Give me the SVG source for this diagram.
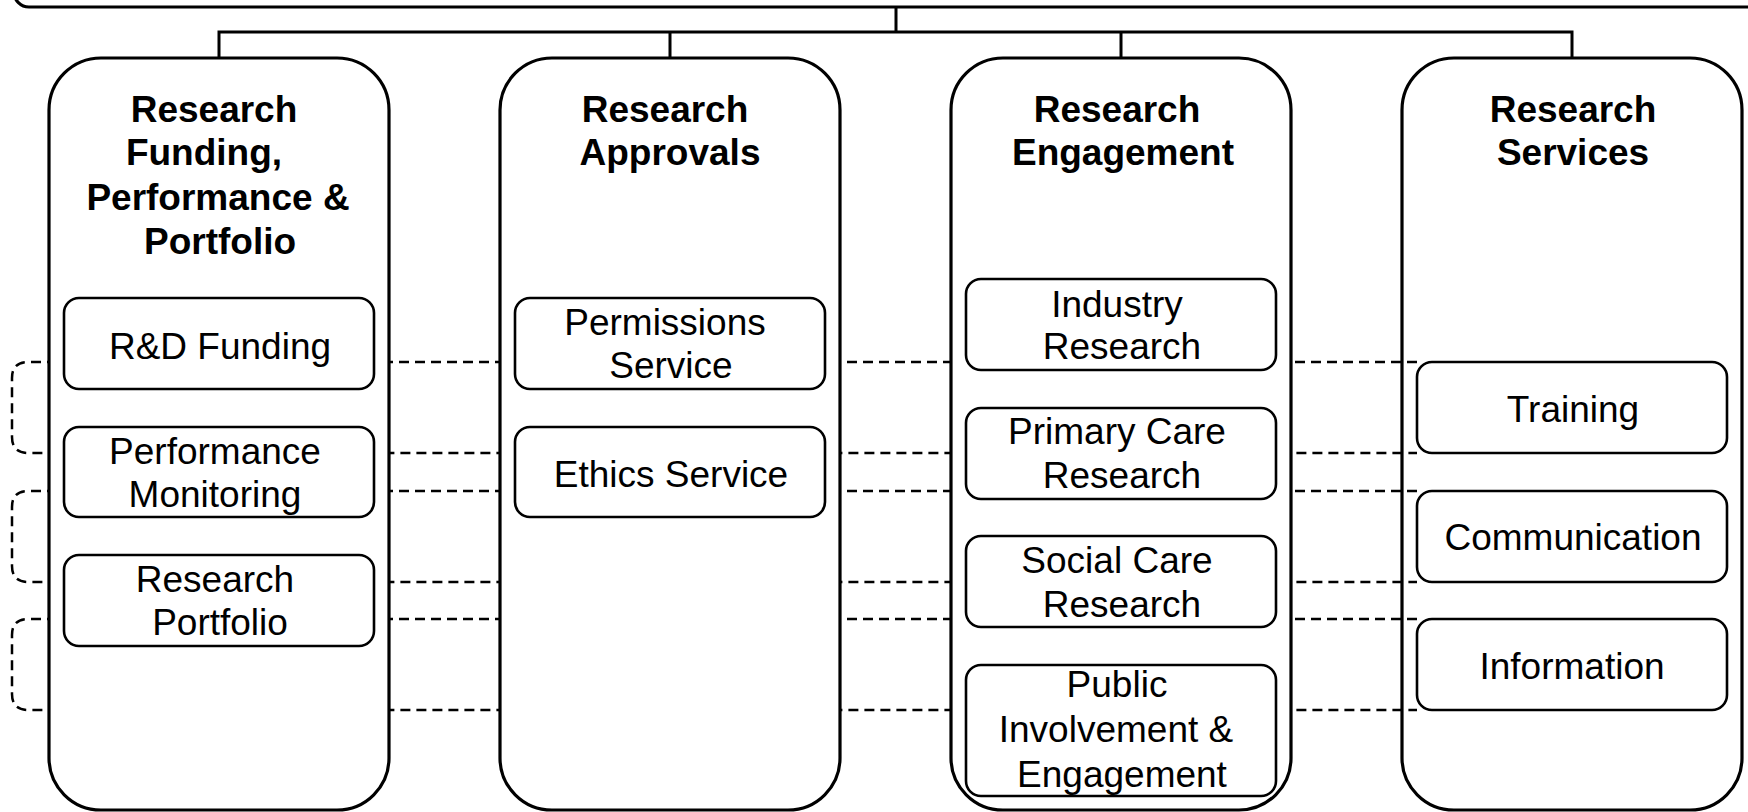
<svg xmlns="http://www.w3.org/2000/svg" width="1748" height="812" viewBox="0 0 1748 812">
<style>
.col{fill:#fff;stroke:#000;stroke-width:3.2}
.box{fill:#fff;stroke:#000;stroke-width:2.6}
.t{font-family:"Liberation Sans",Arial,sans-serif;font-size:37px;fill:#000;text-anchor:middle}
.h{font-weight:bold}
.tree{fill:none;stroke:#000;stroke-width:3}
.dash{fill:none;stroke:#000;stroke-width:2.5;stroke-dasharray:10 6}
</style>
<rect width="1748" height="812" fill="#fff"/>
<g id="top">
<rect x="14" y="-100" width="1760" height="107" rx="15" class="col"/>
</g>
<g id="col4">
<rect x="1402" y="58" width="340" height="752" rx="52" class="col"/>
<text class="t h" x="1573" y="122">Research</text>
<text class="t h" x="1573" y="165">Services</text>
<rect x="1417" y="362" width="310" height="91" rx="15" class="box"/>
<text class="t" x="1573" y="422">Training</text>
<rect x="1417" y="491" width="310" height="91" rx="15" class="box"/>
<text class="t" x="1573" y="550">Communication</text>
<rect x="1417" y="619" width="310" height="91" rx="15" class="box"/>
<text class="t" x="1572" y="679">Information</text>
</g>
<g id="connectors">
<path class="tree" d="M896,7 V32 M219,58 V32 H1572 V58 M670,32 V58 M1121,32 V58"/>
<path class="dash" d="M1417,362 H28 Q12,362 12,378 V437 Q12,453 28,453 H1417"/>
<path class="dash" d="M1417,491 H28 Q12,491 12,507 V566 Q12,582 28,582 H1417"/>
<path class="dash" d="M1417,619 H28 Q12,619 12,635 V694 Q12,710 28,710 H1417"/>
</g>
<g id="col1">
<rect x="49" y="58" width="340" height="752" rx="52" class="col"/>
<text class="t h" x="214" y="122">Research</text>
<text class="t h" x="204" y="165">Funding,</text>
<text class="t h" x="218" y="210">Performance &amp;</text>
<text class="t h" x="220" y="254">Portfolio</text>
<rect x="64" y="298" width="310" height="91" rx="15" class="box"/>
<text class="t" x="220" y="359">R&amp;D Funding</text>
<rect x="64" y="427" width="310" height="90" rx="15" class="box"/>
<text class="t" x="215" y="464">Performance</text>
<text class="t" x="215" y="507">Monitoring</text>
<rect x="64" y="555" width="310" height="91" rx="15" class="box"/>
<text class="t" x="215" y="592">Research</text>
<text class="t" x="220" y="635">Portfolio</text>
</g>
<g id="col2">
<rect x="500" y="58" width="340" height="752" rx="52" class="col"/>
<text class="t h" x="665" y="122">Research</text>
<text class="t h" x="670" y="165">Approvals</text>
<rect x="515" y="298" width="310" height="91" rx="15" class="box"/>
<text class="t" x="665" y="335">Permissions</text>
<text class="t" x="671" y="378">Service</text>
<rect x="515" y="427" width="310" height="90" rx="15" class="box"/>
<text class="t" x="671" y="487">Ethics Service</text>
</g>
<g id="col3">
<rect x="951" y="58" width="340" height="752" rx="52" class="col"/>
<text class="t h" x="1117" y="122">Research</text>
<text class="t h" x="1123" y="165">Engagement</text>
<rect x="966" y="279" width="310" height="91" rx="15" class="box"/>
<text class="t" x="1117" y="317">Industry</text>
<text class="t" x="1122" y="359">Research</text>
<rect x="966" y="408" width="310" height="91" rx="15" class="box"/>
<text class="t" x="1117" y="444">Primary Care</text>
<text class="t" x="1122" y="488">Research</text>
<rect x="966" y="536" width="310" height="91" rx="15" class="box"/>
<text class="t" x="1117" y="573">Social Care</text>
<text class="t" x="1122" y="617">Research</text>
<rect x="966" y="665" width="310" height="131" rx="15" class="box"/>
<text class="t" x="1117" y="697">Public</text>
<text class="t" x="1116" y="742">Involvement &amp;</text>
<text class="t" x="1122" y="787">Engagement</text>
</g>
</svg>
